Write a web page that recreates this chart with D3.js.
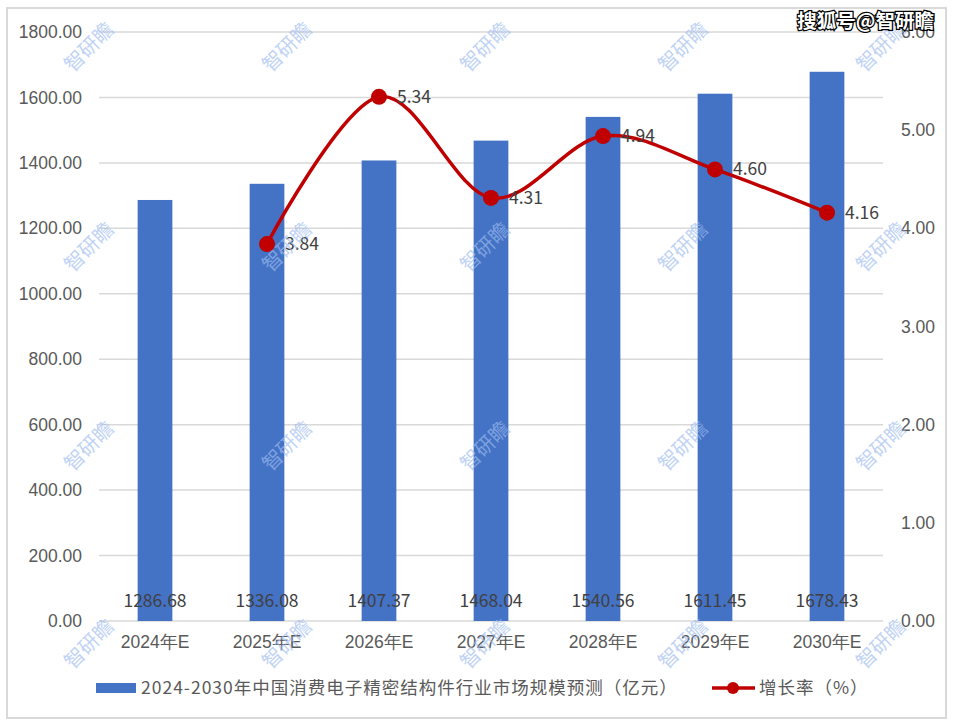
<!DOCTYPE html>
<html>
<head>
<meta charset="utf-8">
<script src="https://cdn.jsdelivr.net/npm/d3@7"></script>
<style>
  body { margin: 0; background: #fff; }
  svg { display: block; font-family: "Noto Sans CJK SC", "Noto Sans", sans-serif; }
</style>
</head>
<body>
<svg id="chart" width="953" height="726"></svg>
<script>
const years = ["2024年E", "2025年E", "2026年E", "2027年E", "2028年E", "2029年E", "2030年E"]
const marketSize = [1286.68, 1336.08, 1407.37, 1468.04, 1540.56, 1611.45, 1678.43]
const growthYears = ["2025年E", "2026年E", "2027年E", "2028年E", "2029年E", "2030年E"]
const growthRate = [3.84, 5.34, 4.31, 4.94, 4.60, 4.16]
const leftTicks = [0, 200, 400, 600, 800, 1000, 1200, 1400, 1600, 1800]
const rightTicks = [0, 1, 2, 3, 4, 5, 6]
const barName = "2024-2030年中国消费电子精密结构件行业市场规模预测（亿元）"
const lineName = "增长率（%）"

const svg = d3.select("#chart")
const plotL = 99, plotR = 883, plotT = 32, plotB = 621
const fs = 17.5

// outer frame
svg.append("rect").attr("x", 7).attr("y", 8).attr("width", 939).attr("height", 710)
  .attr("fill", "#fff").attr("stroke", "#d9d9d9").attr("stroke-width", 2)

const x = d3.scaleBand().domain(years).range([plotL, plotR]).paddingInner(0.69).paddingOuter(0.345)
const yL = d3.scaleLinear().domain([0, 1800]).range([plotB, plotT])
const yR = d3.scaleLinear().domain([0, 6]).range([plotB, plotT])

// grid
svg.append("g").selectAll("line").data(leftTicks).join("line")
  .attr("x1", plotL).attr("x2", plotR)
  .attr("y1", d => yL(d)).attr("y2", d => yL(d))
  .attr("stroke", "#d9d9d9").attr("stroke-width", 1.5)

// left axis
const axL = svg.append("g").attr("transform", `translate(${plotL - 17},0)`)
  .call(d3.axisLeft(yL).tickValues(leftTicks).tickFormat(d3.format(".2f")).tickSize(0).tickPadding(0))
axL.select(".domain").remove()
axL.selectAll("text").attr("font-size", fs).attr("fill", "#595959").attr("font-family", "inherit")

// right axis
const axR = svg.append("g").attr("transform", `translate(${plotR + 18},0)`)
  .call(d3.axisRight(yR).tickValues(rightTicks).tickFormat(d3.format(".2f")).tickSize(0).tickPadding(0))
axR.select(".domain").remove()
axR.selectAll("text").attr("font-size", fs).attr("fill", "#595959").attr("font-family", "inherit")

// x axis
const axX = svg.append("g").attr("transform", `translate(0,${plotB})`)
  .call(d3.axisBottom(x).tickSize(0).tickPadding(15))
axX.select(".domain").remove()
axX.selectAll("text").attr("font-size", fs).attr("fill", "#595959").attr("font-family", "inherit")

// bars
svg.append("g").selectAll("rect").data(marketSize).join("rect")
  .attr("x", (d, i) => x(years[i]))
  .attr("width", x.bandwidth())
  .attr("y", d => yL(d))
  .attr("height", d => plotB - yL(d))
  .attr("fill", "#4472c4")

svg.append("g").selectAll("text").data(marketSize).join("text")
  .attr("x", (d, i) => x(years[i]) + x.bandwidth() / 2)
  .attr("y", plotB - 14)
  .attr("text-anchor", "middle")
  .attr("font-size", fs).attr("fill", "#404040")
  .text(d => d.toFixed(2))

// line
const cx = d => x(d) + x.bandwidth() / 2
const pts = growthRate.map((v, i) => [cx(growthYears[i]), yR(v)])
svg.append("path")
  .attr("d", d3.line().curve(d3.curveCatmullRom.alpha(0))(pts))
  .attr("fill", "none").attr("stroke", "#c00000").attr("stroke-width", 3.5)

svg.append("g").selectAll("circle").data(pts).join("circle")
  .attr("cx", d => d[0]).attr("cy", d => d[1]).attr("r", 8)
  .attr("fill", "#c00000")

svg.append("g").selectAll("text").data(growthRate).join("text")
  .attr("x", (d, i) => pts[i][0] + 18)
  .attr("y", (d, i) => pts[i][1] + 6)
  .attr("font-size", fs).attr("fill", "#404040")
  .text(d => d.toFixed(2))

// legend
const lg = svg.append("g")
lg.append("rect").attr("x", 96).attr("y", 683).attr("width", 40).attr("height", 10).attr("fill", "#4472c4")
lg.append("text").attr("x", 141).attr("y", 694).attr("font-size", fs).attr("letter-spacing", 1)
  .attr("fill", "#595959").text(barName)
lg.append("line").attr("x1", 712).attr("x2", 755).attr("y1", 688).attr("y2", 688)
  .attr("stroke", "#c00000").attr("stroke-width", 3.5)
lg.append("circle").attr("cx", 733).attr("cy", 688).attr("r", 6).attr("fill", "#c00000")
lg.append("text").attr("x", 759).attr("y", 694).attr("font-size", fs).attr("letter-spacing", 1)
  .attr("fill", "#595959").text(lineName)

// watermarks
const wmX = [90, 288, 486, 684, 882]
const wmY = [48, 248, 447, 645]
const wm = svg.append("g")
wmY.forEach(wy => wmX.forEach(wx => {
  wm.append("text").attr("transform", `translate(${wx},${wy}) rotate(-45)`)
    .attr("text-anchor", "middle").attr("dominant-baseline", "middle")
    .attr("font-size", 20).attr("fill", "#9ebcf0").attr("opacity", 0.65)
    .text("智研瞻")
}))

// source tag
svg.append("text").attr("x", 934).attr("y", 28).attr("text-anchor", "end")
  .attr("font-size", 19.5).attr("font-weight", "bold")
  .attr("fill", "#fff").attr("stroke", "#000").attr("stroke-width", 2.5)
  .attr("paint-order", "stroke").text("搜狐号@智研瞻")
</script>
</body>
</html>
